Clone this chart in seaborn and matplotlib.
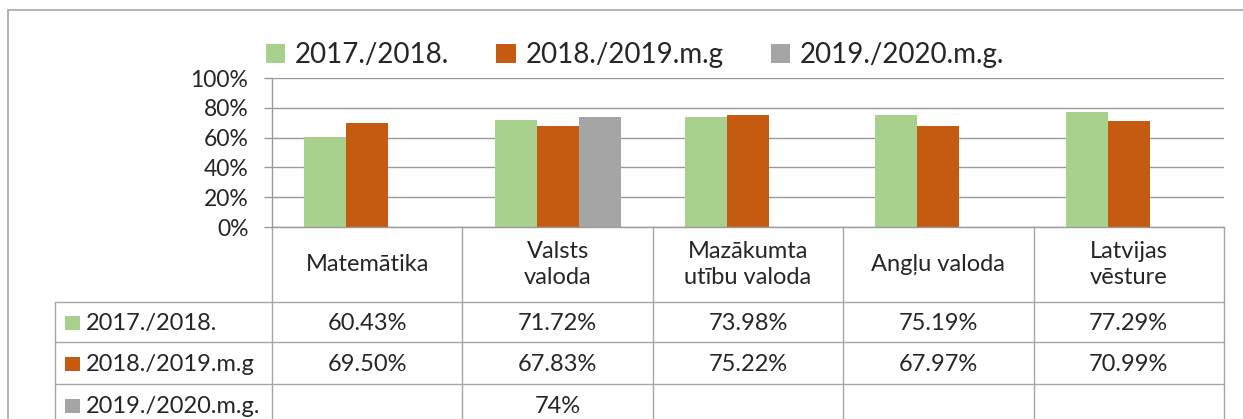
import numpy as np
import pandas as pd
import matplotlib
matplotlib.use('Agg')
import matplotlib.pyplot as plt
import matplotlib.transforms as mtrans
from matplotlib.patches import Patch, Rectangle
import seaborn as sns

# data
subjects = ['Matemātika', 'Valsts\nvaloda', 'Mazākumta\nutību valoda', 'Angļu valoda', 'Latvijas\nvēsture']
years = ['2017./2018.', '2018./2019.m.g', '2019./2020.m.g.']
y_2018 = [0.6043, 0.7172, 0.7398, 0.7519, 0.7729]
y_2019 = [0.6950, 0.6783, 0.7522, 0.6797, 0.7099]
y_2020 = [np.nan, 0.74, np.nan, np.nan, np.nan]
fmts = ['{:.2%}', '{:.2%}', '{:.0%}']
colors = ['#A9D18E', '#C55A11', '#A5A5A5']

series = [y_2018, y_2019, y_2020]
df = pd.DataFrame({
    'subject': subjects * 3,
    'year': np.repeat(years, len(subjects)),
    'value': y_2018 + y_2019 + y_2020,
})

sns.set_style('white')
plt.rcParams['font.family'] = ['Lato', 'DejaVu Sans']

W, H = 1243, 419
fig = plt.figure(figsize=(W / 100, H / 100), dpi=100)

# overlay in pixel coords for frame and table
over = fig.add_axes([0, 0, 1, 1], zorder=0)
over.set_xlim(0, W)
over.set_ylim(H, 0)
over.axis('off')

ax = fig.add_axes([272 / W, 1 - 227 / H, 952 / W, 149 / H], zorder=2)
ax.patch.set_alpha(0)
sns.barplot(data=df, x='subject', y='value', hue='year', hue_order=years,
            palette=colors, saturation=1, width=0.662, linewidth=0,
            legend=False, ax=ax)
ax.set_xlim(-0.5, len(subjects) - 0.5)
ax.set_ylim(0, 1)
ticks = np.arange(0, 1.01, 0.2)
ax.set_yticks(ticks)
ax.set_yticklabels([f'{int(round(t * 100))}%' for t in ticks], fontsize=16.5)
ax.yaxis.grid(True, color='#9a9a9a', lw=1)
ax.set_axisbelow(True)
ax.tick_params(axis='y', left=True, length=6, width=1, color='#9a9a9a', pad=11)
ax.tick_params(axis='x', bottom=False, labelbottom=False)
ax.set_xlabel('')
ax.set_ylabel('')
for s in ['top', 'right']:
    ax.spines[s].set_visible(False)
for s in ['left', 'bottom']:
    ax.spines[s].set_color('#9a9a9a')
    ax.spines[s].set_linewidth(1)

# legend on top
handles = [Patch(facecolor=c, edgecolor='none', label=y) for c, y in zip(colors, years)]
fig.legend(handles=handles, loc='center', bbox_to_anchor=(635 / W, 1 - 55 / H), ncol=3,
           frameon=False, fontsize=20, handlelength=0.7, handleheight=0.7,
           handletextpad=0.35, columnspacing=1.7)

# outer frame
lc = '#a6a6a6'
over.plot([8, 8], [10, H + 5], color=lc, lw=1.2)
over.plot([8, W + 5], [10, 10], color=lc, lw=1.2)

# data table below the axis
tr = mtrans.blended_transform_factory(ax.transData, over.transData)
row_y = [227, 302, 342, 384, 426]
n = len(subjects)
edges = np.arange(n + 1) - 0.5
for e in edges:
    over.plot([e, e], [227, H + 10], color=lc, lw=1, transform=tr, clip_on=False)
over.plot([55, 55], [302, H + 10], color=lc, lw=1)
for y in row_y[1:]:
    over.plot([55, 272], [y, y], color=lc, lw=1)
    over.plot([edges[0], edges[-1]], [y, y], color=lc, lw=1, transform=tr)

hy = (row_y[0] + row_y[1]) / 2
for i, s in enumerate(subjects):
    over.text(i, hy, s, transform=tr, ha='center', va='center', fontsize=17,
              multialignment='center', linespacing=1.35)

for r, (vals, fmt, c, yr) in enumerate(zip(series, fmts, colors, years)):
    cy = (row_y[r + 1] + row_y[r + 2]) / 2
    over.add_patch(Rectangle((65, cy - 6.5), 15, 14, facecolor=c, edgecolor='none'))
    over.text(86, cy + 1, yr, ha='left', va='center', fontsize=17)
    for i, v in enumerate(vals):
        if not np.isnan(v):
            over.text(i, cy + 1, fmt.format(v), transform=tr, ha='center', va='center', fontsize=17)

fig.savefig('out.png', dpi=100)
